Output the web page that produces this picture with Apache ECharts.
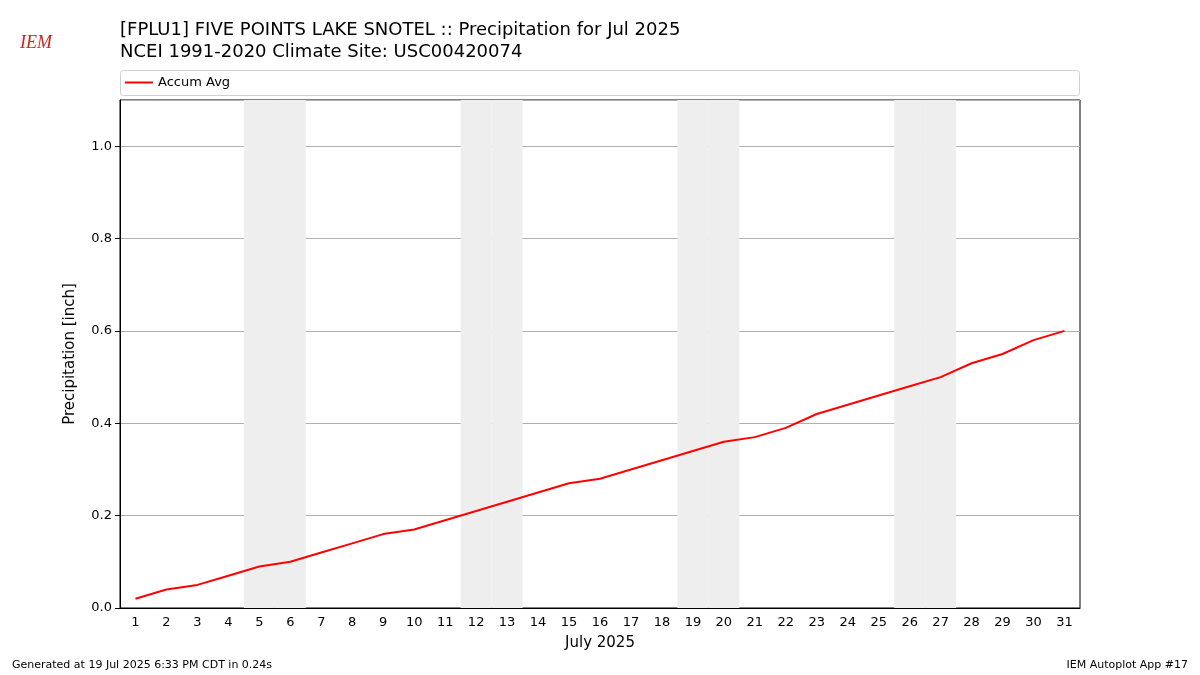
<!DOCTYPE html>
<html><head><meta charset="utf-8">
<script src="https://cdn.jsdelivr.net/npm/echarts@6/dist/echarts.min.js"></script>
<style>html,body{margin:0;padding:0;background:#fff}#c{width:1200px;height:675px}</style>
</head><body><div id="c"></div>
<script>
const days = Array.from({length:31},(_,i)=>String(i+1));
const accumAvg = [0.02,0.04,0.05,0.07,0.09,0.10,0.12,0.14,0.16,0.17,0.19,0.21,0.23,0.25,0.27,0.28,0.30,0.32,0.34,0.36,0.37,0.39,0.42,0.44,0.46,0.48,0.50,0.53,0.55,0.58,0.60];
const weekendDays = ['5','6','12','13','19','20','26','27'];
const shade = days.map(d => weekendDays.includes(d) ? 1.1 : null);
const chart = echarts.init(document.getElementById('c'));
const F = 'DejaVu Sans';
chart.setOption({
  animation:false,
  textStyle:{fontFamily:F},
  title:{text:'[FPLU1] FIVE POINTS LAKE SNOTEL :: Precipitation for Jul 2025\nNCEI 1991-2020 Climate Site: USC00420074',
    left:115, top:14, textStyle:{fontFamily:F,fontSize:18,fontWeight:'normal',color:'#000',lineHeight:22}},
  legend:{left:120, top:71, padding:[5,5,5,5],
    itemWidth:28, itemHeight:2, data:[{name:'Accum Avg', icon:'rect'}], textStyle:{fontFamily:F,fontSize:13,color:'#000'}},
  grid:{left:120, right:120, top:100, bottom:67, show:true, borderColor:'#000', borderWidth:1},
  xAxis:{type:'category', data:days, boundaryGap:true, name:'July 2025', nameLocation:'middle', nameGap:28,
    nameTextStyle:{fontSize:15,color:'#000'},
    axisLine:{lineStyle:{color:'#000'}}, axisTick:{alignWithLabel:true, lineStyle:{color:'#000'}},
    axisLabel:{color:'#000',fontSize:13}},
  yAxis:{type:'value', min:0, max:1.1, interval:0.2, name:'Precipitation [inch]', nameLocation:'middle', nameGap:42,
    nameTextStyle:{fontSize:15,color:'#000'},
    axisLine:{show:true,lineStyle:{color:'#000'}}, axisTick:{show:true,lineStyle:{color:'#000'}},
    axisLabel:{color:'#000',fontSize:13,showMaxLabel:false,formatter:v=>v.toFixed(1)},
    splitLine:{lineStyle:{color:'#b0b0b0'}}},
  series:[
    {type:'bar', data:shade, barWidth:'100%', barGap:'-100%', itemStyle:{color:'#eeeeee'}, silent:true, z:0, legendHoverLink:false},
    {name:'Accum Avg', type:'line', data:accumAvg, symbol:'none', lineStyle:{color:'#ff0000',width:2}, itemStyle:{color:'#ff0000'}, z:5}
  ],
  graphic:[
    {type:'rect', shape:{x:120.5,y:70.5,width:959,height:25,r:3}, style:{fill:'none',stroke:'#d0d0d0',lineWidth:1}},
    {type:'text', left:20, top:34, style:{text:'IEM', fill:'#d62020', font:'italic 18px serif'}},
    {type:'text', left:12, top:660, style:{text:'Generated at 19 Jul 2025 6:33 PM CDT in 0.24s', fill:'#000', font:'11px DejaVu Sans'}},
    {type:'text', right:12, top:660, style:{text:'IEM Autoplot App #17', fill:'#000', font:'11px DejaVu Sans'}}
  ]
});
</script></body></html>
